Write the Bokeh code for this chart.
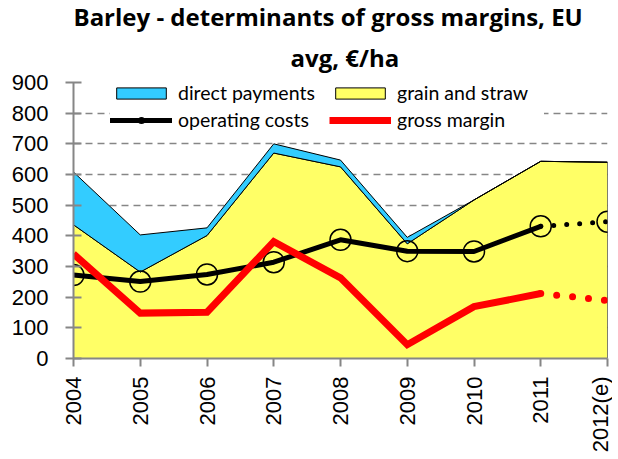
from math import pi
from bokeh.plotting import figure
from bokeh.models import Range1d, FixedTicker, Legend, LegendItem, Title
from bokeh.embed import file_html
from bokeh.resources import INLINE

# ---- data ----
years = [2004, 2005, 2006, 2007, 2008, 2009, 2010, 2011, 2012]
year_labels = ["2004", "2005", "2006", "2007", "2008", "2009", "2010", "2011", "2012(e)"]
grain_and_straw = [436, 282, 401, 670, 625, 374, 517, 643, 640]
direct_payments = [172, 121, 25, 30, 22, 21, 0, 0, 0]
operating_costs = [272, 251, 274, 314, 387, 350, 349, 431, 446]
gross_margin = [341, 148, 151, 381, 263, 45, 169, 212, 189]
y_ticks = [0, 100, 200, 300, 400, 500, 600, 700, 800, 900]

n_actual = 8  # 2004-2011 actual, 2012 estimate

totals = [g + d for g, d in zip(grain_and_straw, direct_payments)]

p = figure(width=612, height=455, output_backend="svg", toolbar_location=None,
           x_range=Range1d(years[0], years[-1]), y_range=Range1d(0, 900),
           min_border_left=73, min_border_right=5, min_border_top=82, min_border_bottom=93,
           title=None)
p.outline_line_color = None
p.background_fill_color = "white"
p.border_fill_color = "white"

# titles
t2 = Title(text="avg, €/ha", align="left", text_font="Open Sans", text_font_style="bold",
           text_font_size="24px", text_color="black", standoff=18, offset=217)
t1 = Title(text="Barley - determinants of gross margins, EU", align="left", text_font="Open Sans",
           text_font_style="bold", text_font_size="24px", text_color="black", standoff=-6,
           offset=0)
p.add_layout(t2, "above")
p.add_layout(t1, "above")

# areas
yellow = p.patch(x=years + [years[-1], years[0]], y=grain_and_straw + [0, 0],
                 fill_color="#FFFF66", line_color="black", line_width=1)
blue = p.patch(x=years + years[::-1], y=totals + grain_and_straw[::-1],
               fill_color="#33CCFF", line_color="black", line_width=1)

# operating costs
oc_line = p.line(years[:n_actual], operating_costs[:n_actual], line_color="black", line_width=5,
                 line_join="round", line_cap="round")
p.line(years[n_actual - 1:], operating_costs[n_actual - 1:], line_color="black", line_width=5,
       line_dash="0 13", line_cap="round")
oc_pts = p.scatter(years, operating_costs, size=21, marker="circle", fill_color=None,
                   line_color="black", line_width=1.5)

# gross margin
gm_line = p.line(years[:n_actual], gross_margin[:n_actual], line_color="#FF0000", line_width=7,
                 line_join="miter")
p.line(years[n_actual - 1:], gross_margin[n_actual - 1:], line_color="#FF0000", line_width=7,
       line_dash="0 16", line_cap="round")

# axes
axis_col = "#868686"
p.xaxis.ticker = FixedTicker(ticks=years)
p.xaxis.major_label_overrides = {y: l for y, l in zip(years, year_labels)}
p.xaxis.major_label_orientation = pi / 2
p.xaxis.major_tick_in = 0
p.xaxis.major_tick_out = 8
p.xaxis.major_label_standoff = 10
p.yaxis.ticker = FixedTicker(ticks=y_ticks)
p.yaxis.major_tick_in = 8
p.yaxis.major_tick_out = 8
p.yaxis.major_label_standoff = 17
for ax in (p.xaxis, p.yaxis):
    ax.axis_line_color = axis_col
    ax.axis_line_width = 2
    ax.major_tick_line_color = axis_col
    ax.major_tick_line_width = 2
    ax.minor_tick_line_color = None
    ax.major_label_text_font = "Liberation Sans"
    ax.major_label_text_font_size = "22px"
    ax.major_label_text_color = "black"

p.xgrid.grid_line_color = None
p.ygrid.ticker = FixedTicker(ticks=y_ticks)
p.ygrid.grid_line_color = "#868686"
p.ygrid.grid_line_dash = "7 5"
p.ygrid.grid_line_width = 1.5

legend = Legend(items=[
    LegendItem(label="direct payments", renderers=[blue]),
    LegendItem(label="operating costs", renderers=[oc_line, oc_pts]),
    LegendItem(label="grain and straw", renderers=[yellow]),
    LegendItem(label="gross margin", renderers=[gm_line]),
], location=(37, 227), nrows=2, orientation="vertical",
    glyph_width=62, glyph_height=14, label_standoff=6, label_width=147, spacing=4,
    padding=4, margin=0, border_line_color=None, background_fill_alpha=1,
    label_text_font="Lato", label_text_font_size="19.5px", label_text_color="black")
p.add_layout(legend, "center")

open("out.html", "w").write(file_html(p, INLINE))
